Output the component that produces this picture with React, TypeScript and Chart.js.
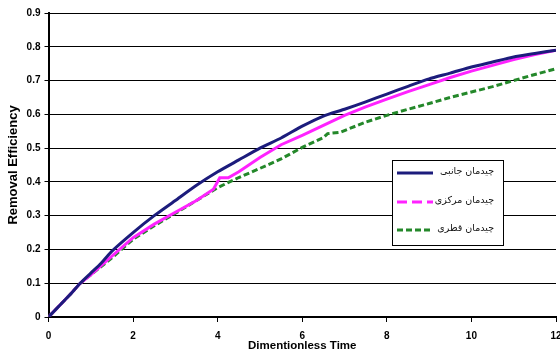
import React, { useEffect, useRef } from "react";
import { Chart, registerables } from "chart.js";
Chart.register(...registerables);

const seriesLabels = ["چیدمان جانبی", "چیدمان مرکزی", "چیدمان قطری"];
const seriesColors = ["#1c1c7c", "#ff22ff", "#24882a"];

const sideTime = [0, 0.5, 0.75, 1, 1.25, 1.5, 2, 2.5, 3, 3.5, 4, 4.5, 5, 5.5, 6, 6.5, 7, 7.5, 8, 8.5, 9, 9.5, 10, 10.5, 11, 11.5, 12];
const sideEff = [0, 0.065, 0.1, 0.13, 0.16, 0.195, 0.25, 0.3, 0.345, 0.39, 0.43, 0.465, 0.5, 0.53, 0.565, 0.595, 0.615, 0.637, 0.66, 0.683, 0.705, 0.722, 0.74, 0.755, 0.77, 0.78, 0.79];

const centerTime = [0, 0.5, 0.75, 1, 1.5, 2, 2.5, 3, 3.5, 3.9, 4.05, 4.25, 4.5, 5, 5.5, 6, 6.5, 7, 7.5, 8, 8.5, 9, 9.5, 10, 10.5, 11, 11.5, 12];
const centerEff = [0, 0.065, 0.1, 0.125, 0.18, 0.235, 0.275, 0.31, 0.345, 0.378, 0.412, 0.412, 0.43, 0.472, 0.51, 0.538, 0.567, 0.597, 0.622, 0.645, 0.667, 0.688, 0.709, 0.728, 0.745, 0.762, 0.777, 0.79];

const diagTime = [0, 0.5, 0.75, 1, 1.5, 2, 2.5, 3, 3.5, 4, 4.5, 5, 5.5, 6, 6.5, 6.6, 6.9, 7.5, 8, 8.5, 9, 9.5, 10, 10.5, 11, 11.5, 12];
const diagEff = [0, 0.065, 0.1, 0.125, 0.175, 0.23, 0.27, 0.307, 0.345, 0.383, 0.413, 0.44, 0.468, 0.502, 0.531, 0.543, 0.547, 0.577, 0.597, 0.615, 0.632, 0.65, 0.666, 0.682, 0.7, 0.718, 0.735];

const xTickLabels = ["0", "2", "4", "6", "8", "10", "12"];
const yTickLabels = ["0", "0.1", "0.2", "0.3", "0.4", "0.5", "0.6", "0.7", "0.8", "0.9"];

const toPoints = (t: number[], v: number[]) => t.map((x, i) => ({ x, y: v[i] }));

const legendPlugin = {
  id: "boxLegend",
  afterDatasetsDraw(chart: any) {
    const ctx = chart.ctx;
    const bx = 392, by = 160, bw = 111, bh = 85;
    ctx.save();
    ctx.fillStyle = "#ffffff";
    ctx.fillRect(bx, by, bw, bh);
    ctx.strokeStyle = "#000000";
    ctx.lineWidth = 1;
    ctx.strokeRect(bx + 0.5, by + 0.5, bw, bh);
    const rows = [173, 202, 230];
    const dashes = [[], [10, 5], [6, 3]];
    chart.data.datasets.forEach((ds: any, i: number) => {
      ctx.beginPath();
      ctx.setLineDash(dashes[i]);
      ctx.strokeStyle = ds.borderColor;
      ctx.lineWidth = 3;
      ctx.moveTo(397, rows[i]);
      ctx.lineTo(433, rows[i]);
      ctx.stroke();
      ctx.setLineDash([]);
      ctx.fillStyle = "#111111";
      ctx.font = "9.5px 'DejaVu Sans'";
      ctx.textAlign = "right";
      ctx.textBaseline = "middle";
      ctx.fillText(ds.label, 494, rows[i] - 1);
    });
    ctx.restore();
  },
};

export default function App() {
  const ref = useRef<HTMLCanvasElement | null>(null);
  useEffect(() => {
    if (!ref.current) return;
    const chart = new Chart(ref.current, {
      type: "line",
      data: {
        datasets: [
          { label: seriesLabels[0], data: toPoints(sideTime, sideEff), borderColor: seriesColors[0], borderWidth: 3, pointRadius: 0, tension: 0.2 },
          { label: seriesLabels[1], data: toPoints(centerTime, centerEff), borderColor: seriesColors[1], borderWidth: 3, pointRadius: 0, tension: 0 },
          { label: seriesLabels[2], data: toPoints(diagTime, diagEff), borderColor: seriesColors[2], borderWidth: 3, borderDash: [6, 3], pointRadius: 0, tension: 0 },
        ],
      },
      options: {
        animation: false,
        responsive: false,
        layout: { padding: { left: 0, right: 4, top: 13, bottom: 0 } },
        plugins: { legend: { display: false }, tooltip: { enabled: false } },
        scales: {
          x: {
            type: "linear",
            min: 0,
            max: 12,
            afterFit: (s: any) => { s.height = 35; s.paddingLeft = 0; s.paddingRight = 0; },
            ticks: {
              stepSize: 2,
              padding: 8,
              color: "#000",
              font: { family: "'Liberation Sans', Arial", size: 10, weight: "bold" },
              callback: (_v: any, i: number) => xTickLabels[i],
              maxRotation: 0,
            },
            grid: { display: true, drawOnChartArea: false, drawTicks: true, tickLength: 5, color: "#000" },
            border: { display: true, color: "#000", width: 2 },
            title: {
              display: true,
              text: "Dimentionless Time",
              color: "#000",
              font: { family: "'Liberation Sans', Arial", size: 11.5, weight: "bold", lineHeight: 1 },
              padding: { top: 0, bottom: 0 },
            },
          },
          y: {
            min: 0,
            max: 0.9,
            afterFit: (s: any) => { s.width = 48.5; s.paddingTop = 0; s.paddingBottom = 0; },
            ticks: {
              stepSize: 0.1,
              padding: 4,
              color: "#000",
              font: { family: "'Liberation Sans', Arial", size: 10, weight: "bold" },
              callback: (_v: any, i: number) => yTickLabels[i],
            },
            grid: { color: "#000", lineWidth: 1, drawTicks: true, tickLength: 4 },
            border: { display: true, color: "#000", width: 2 },
            title: {
              display: true,
              text: "Removal Efficiency",
              color: "#000",
              font: { family: "'Liberation Sans', Arial", size: 13, weight: "bold", lineHeight: 1.2 },
              padding: { top: 6, bottom: 0 },
            },
          },
        },
      },
      plugins: [legendPlugin],
    });
    return () => chart.destroy();
  }, []);
  return (
    <div style={{ position: "fixed", left: 0, top: 0, width: 560, height: 352, background: "#fff" }}>
      <canvas ref={ref} width={560} height={352} />
    </div>
  );
}
